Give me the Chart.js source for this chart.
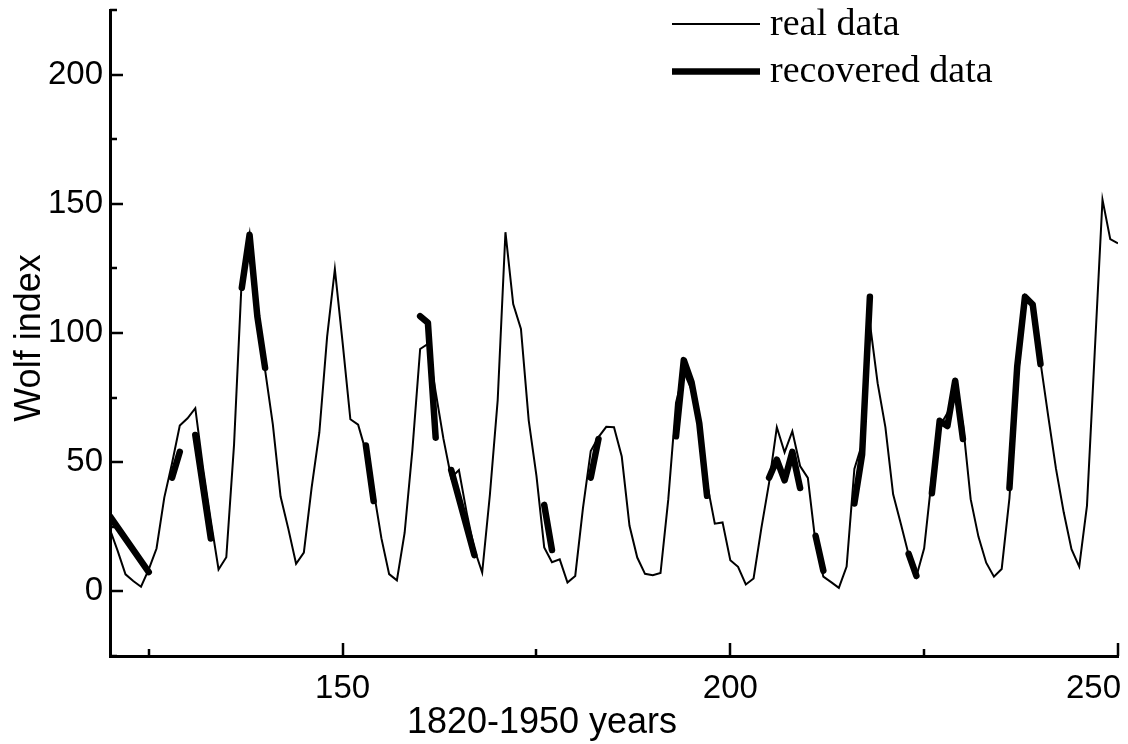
<!DOCTYPE html>
<html>
<head>
<meta charset="utf-8">
<title>Wolf index 1820-1950</title>
<script src="https://cdn.jsdelivr.net/npm/chart.js@4.4.1/dist/chart.umd.min.js"></script>
<style>
    html, body { margin: 0; padding: 0; background: #fff; }
    #wrap { width: 1128px; height: 744px; }
</style>
</head>
<body>
<div id="wrap"><canvas id="wolfChart" width="1128" height="744"></canvas></div>
<script>
// x is the year index (1700 = 1), so 1819 = 120 and 1949 = 250
const firstIndex = 120;

// yearly Wolf numbers, one per index from firstIndex on
const realValues = [
    23.9, 15.6, 6.6, 4.0, 1.8, 8.5, 16.6, 36.3, 49.6, 64.2,
    67.0, 70.9, 47.8, 27.5, 8.5, 13.2, 56.9, 121.5, 138.3, 103.2,
    85.7, 64.6, 36.7, 24.2, 10.7, 15.0, 40.1, 61.5, 98.5, 124.7,
    96.3, 66.6, 64.5, 54.1, 39.0, 20.6, 6.7, 4.3, 22.7, 54.8,
    93.8, 95.8, 77.2, 59.1, 44.0, 47.0, 30.5, 16.3, 7.3, 37.6,
    74.0, 139.0, 111.2, 101.6, 66.2, 44.7, 17.0, 11.3, 12.4, 3.4,
    6.0, 32.3, 54.3, 59.7, 63.7, 63.5, 52.2, 25.4, 13.1, 6.8,
    6.3, 7.1, 35.6, 73.0, 85.1, 78.0, 64.0, 41.8, 26.2, 26.7,
    12.1, 9.5, 2.7, 5.0, 24.4, 42.0, 63.5, 53.8, 62.0, 48.5,
    43.9, 18.6, 5.7, 3.6, 1.4, 9.6, 47.4, 57.1, 103.9, 80.6,
    63.6, 37.6, 26.1, 14.2, 5.8, 16.7, 44.3, 63.9, 69.0, 77.8,
    64.9, 35.7, 21.2, 11.1, 5.7, 8.7, 36.1, 79.7, 114.4, 109.6,
    88.8, 67.8, 47.5, 30.6, 16.3, 9.6, 33.2, 92.6, 151.6, 136.3,
    134.7
];

// recovered pieces, null starts a new piece
const recoveredX = [
    120, 125, null, 128, 129, null, 131, 133, null, 137, 138, 139, 140, null,
    153, 154, null, 160, 161, 162, null, 164, 167, null, 176, 177, null,
    182, 183, null, 193, 194, 195, 196, 197, null, 205, 206, 207, 208, 209, null,
    211, 212, null, 216, 217, 218, null, 223, 224, null, 226, 227, 228, 229, 230, null,
    236, 237, 238, 239, 240
];
const recoveredY = [
    29, 7.5, null, 44, 54, null, 60.5, 20.5, null, 117.5, 138, 106.5, 86.5, null,
    56.5, 35, null, 106.5, 104, 59.5, null, 47, 14, null, 33.5, 16, null,
    44, 59, null, 60, 89.5, 81, 65, 37, null, 44, 51, 43, 54, 40, null,
    21.5, 8, null, 34, 53, 114, null, 14.5, 6, null, 38, 66, 64, 81.5, 59, null,
    40, 87, 114, 111, 88
];

const xTicks = [125, 150, 175, 200, 225, 250];
const yTicks = [-25, 0, 25, 50, 75, 100, 125, 150, 175, 200, 225];
const seriesNames = ['real data', 'recovered data'];
const xTitle = '1820-1950 years';
const yTitle = 'Wolf index';

const sansFont = '"Liberation Sans", Arial, Helvetica, sans-serif';
const serifFont = '"Liberation Serif", "Times New Roman", serif';

const realPoints = realValues.map((v, i) => ({ x: firstIndex + i, y: v }));
const recoveredPoints = [];
recoveredX.forEach((x, i) => {
    if (x === null) {
        recoveredPoints.push({ x: recoveredX[i - 1] + 0.5, y: null });
    } else {
        recoveredPoints.push({ x: x, y: recoveredY[i] });
    }
});

// inward tick marks, x labels, axis titles and the legend
const axisDecor = {
    id: 'axisDecor',
    afterDraw(chart) {
        const ctx = chart.ctx;
        const area = chart.chartArea;
        const xs = chart.scales.x;
        const ys = chart.scales.y;
        ctx.save();
        ctx.strokeStyle = '#000';
        ctx.fillStyle = '#000';
        ctx.lineWidth = 2.5;
        ctx.beginPath();
        xs.ticks.forEach(t => {
            const px = Math.round(xs.getPixelForValue(t.value));
            const len = t.value % 50 === 0 ? 13 : 7;
            ctx.moveTo(px, area.bottom);
            ctx.lineTo(px, area.bottom - len);
        });
        ys.ticks.forEach(t => {
            const py = Math.round(ys.getPixelForValue(t.value));
            const len = t.value % 50 === 0 ? 13 : 7;
            ctx.moveTo(area.left, py);
            ctx.lineTo(area.left + len, py);
        });
        ctx.stroke();

        ctx.font = '33px ' + sansFont;
        ctx.textBaseline = 'alphabetic';
        xs.ticks.forEach(t => {
            if (t.value % 50 !== 0) return;
            const px = xs.getPixelForValue(t.value);
            const last = t.value === xs.max;
            ctx.textAlign = last ? 'right' : 'center';
            ctx.fillText(String(t.value), last ? px + 3 : px, area.bottom + 42);
        });

        ctx.font = '36px ' + sansFont;
        ctx.textAlign = 'center';
        ctx.fillText(xTitle, 542, 733);
        ctx.save();
        ctx.translate(40, 338);
        ctx.rotate(-Math.PI / 2);
        ctx.fillText(yTitle, 0, 0);
        ctx.restore();

        // legend
        const lx = 672, lx2 = 760;
        ctx.lineCap = 'butt';
        ctx.lineWidth = 2;
        ctx.beginPath();
        ctx.moveTo(lx, 24);
        ctx.lineTo(lx2, 24);
        ctx.stroke();
        ctx.lineWidth = 6.5;
        ctx.beginPath();
        ctx.moveTo(lx, 71.5);
        ctx.lineTo(lx2, 71.5);
        ctx.stroke();
        ctx.font = '38px ' + serifFont;
        ctx.textAlign = 'left';
        ctx.fillText(seriesNames[0], 770, 35);
        ctx.fillText(seriesNames[1], 770, 82);
        ctx.restore();
    }
};

new Chart(document.getElementById('wolfChart'), {
    type: 'line',
    data: {
        datasets: [
            {
                label: seriesNames[0],
                data: realPoints,
                borderColor: '#000',
                borderWidth: 2,
                pointRadius: 0,
                tension: 0
            },
            {
                label: seriesNames[1],
                data: recoveredPoints,
                borderColor: '#000',
                borderWidth: 6.5,
                pointRadius: 0,
                tension: 0,
                spanGaps: false,
                borderJoinStyle: 'round',
                borderCapStyle: 'round'
            }
        ]
    },
    options: {
        responsive: false,
        animation: false,
        devicePixelRatio: 1,
        layout: { padding: { top: 10, right: 10, left: 0, bottom: 0 } },
        plugins: {
            legend: { display: false },
            tooltip: { enabled: false }
        },
        scales: {
            x: {
                type: 'linear',
                min: 120,
                max: 250,
                afterBuildTicks: s => { s.ticks = xTicks.map(v => ({ value: v })); },
                afterFit: s => { s.height = 88; s.paddingLeft = 0; s.paddingRight = 0; },
                grid: { display: false, drawTicks: false },
                border: { display: true, color: '#000', width: 3 },
                ticks: { display: false }
            },
            y: {
                type: 'linear',
                min: -25,
                max: 225,
                afterBuildTicks: s => { s.ticks = yTicks.map(v => ({ value: v })); },
                afterFit: s => { s.width = 110; s.paddingTop = 0; s.paddingBottom = 0; },
                grid: { display: false, drawTicks: false },
                border: { display: true, color: '#000', width: 3 },
                ticks: {
                    color: '#000',
                    padding: 7,
                    autoSkip: false,
                    font: { family: sansFont, size: 33 },
                    callback: v => (v % 50 === 0 && v >= 0 && v <= 200) ? String(v) : ''
                }
            }
        }
    },
    plugins: [axisDecor]
});
</script>
</body>
</html>
